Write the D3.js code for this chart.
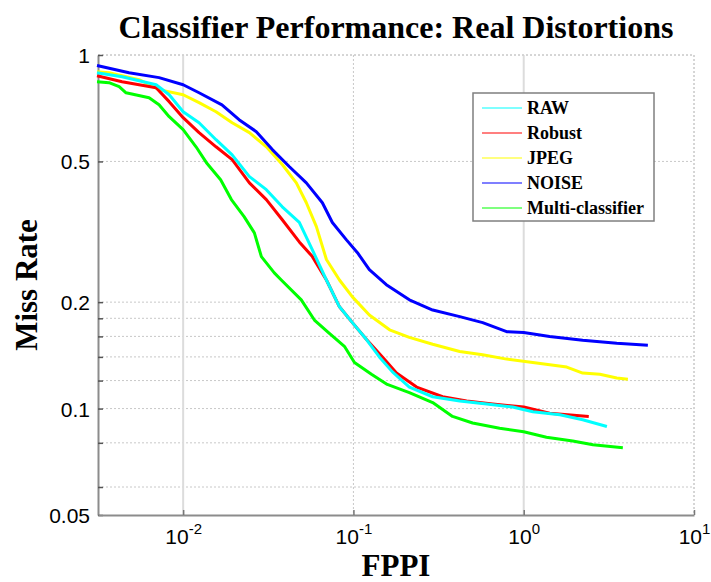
<!DOCTYPE html>
<meta charset="utf-8">
<script src="https://cdn.jsdelivr.net/npm/d3@7"></script>
<style>
body { margin: 0; background: #fff; }
.tick text { font-family: "Liberation Sans", Arial, sans-serif; font-size: 21px; fill: #000; }
.ttl { font-family: "Liberation Serif", "Times New Roman", serif; font-weight: bold; fill: #000; }
</style>
<body>
<script>

// curves: FPPI (x) vs miss rate (y)
var rawX    = [0.00312, 0.00438, 0.00694, 0.00828, 0.01, 0.0124, 0.0156, 0.0194, 0.0245, 0.0308, 0.0382, 0.0481, 0.0574, 0.0694, 0.0828, 0.0986, 0.119, 0.142, 0.1695, 0.213, 0.292, 0.421, 0.606, 0.861, 1.13, 1.63, 2.22, 3.08];
var rawY    = [0.891, 0.868, 0.824, 0.772, 0.691, 0.643, 0.576, 0.522, 0.453, 0.416, 0.372, 0.336, 0.281, 0.231, 0.194, 0.175, 0.157, 0.140, 0.127, 0.115, 0.108, 0.105, 0.103, 0.101, 0.098, 0.096, 0.093, 0.089];
var robustX = [0.00312, 0.00438, 0.00694, 0.00828, 0.01, 0.0124, 0.0156, 0.0194, 0.0245, 0.0308, 0.0382, 0.0481, 0.0574, 0.0694, 0.0828, 0.0986, 0.119, 0.148, 0.179, 0.235, 0.334, 0.462, 0.657, 1.0, 1.42, 2.41];
var robustY = [0.874, 0.840, 0.808, 0.738, 0.665, 0.603, 0.550, 0.506, 0.435, 0.390, 0.342, 0.296, 0.269, 0.231, 0.194, 0.175, 0.157, 0.140, 0.126, 0.115, 0.108, 0.105, 0.103, 0.101, 0.097, 0.095];
var jpegX   = [0.00312, 0.00367, 0.00551, 0.00722, 0.01, 0.0124, 0.0156, 0.0194, 0.0245, 0.0308, 0.0382, 0.0462, 0.0529, 0.0606, 0.0694, 0.0828, 0.0986, 0.124, 0.163, 0.213, 0.292, 0.421, 0.574, 0.794, 1.13, 1.79, 2.22, 2.8, 3.52, 4.09];
var jpegY   = [0.897, 0.891, 0.852, 0.798, 0.772, 0.733, 0.691, 0.643, 0.603, 0.550, 0.490, 0.435, 0.382, 0.327, 0.264, 0.231, 0.207, 0.184, 0.167, 0.159, 0.152, 0.145, 0.142, 0.138, 0.135, 0.131, 0.126, 0.125, 0.122, 0.121];
var noiseX  = [0.00312, 0.00481, 0.00722, 0.01, 0.0124, 0.0169, 0.0213, 0.0269, 0.0334, 0.0421, 0.0529, 0.0657, 0.0752, 0.091, 0.1056, 0.124, 0.156, 0.213, 0.292, 0.421, 0.574, 0.794, 1.0, 1.42, 2.22, 3.52, 5.36];
var noiseY  = [0.934, 0.891, 0.863, 0.824, 0.782, 0.723, 0.656, 0.607, 0.540, 0.483, 0.435, 0.382, 0.336, 0.300, 0.276, 0.247, 0.224, 0.203, 0.190, 0.182, 0.175, 0.165, 0.164, 0.160, 0.156, 0.153, 0.151];
var multiX  = [0.00312, 0.00367, 0.00421, 0.00462, 0.00631, 0.00722, 0.00828, 0.01, 0.0119, 0.0137, 0.0166, 0.0192, 0.0228, 0.0262, 0.0288, 0.0343, 0.0377, 0.0494, 0.059, 0.0703, 0.0885, 0.1014, 0.1276, 0.158, 0.213, 0.292, 0.382, 0.501, 0.722, 1.0, 1.36, 1.94, 2.55, 3.82];
var multiY  = [0.840, 0.835, 0.814, 0.782, 0.757, 0.723, 0.669, 0.615, 0.550, 0.496, 0.444, 0.390, 0.349, 0.314, 0.269, 0.242, 0.231, 0.203, 0.178, 0.165, 0.150, 0.135, 0.125, 0.117, 0.111, 0.104, 0.095, 0.091, 0.088, 0.086, 0.083, 0.081, 0.079, 0.0775];

var names  = ["RAW", "Robust", "JPEG", "NOISE", "Multi-classifier"];
var colors = ["#00ffff", "#ff0000", "#ffff00", "#0000ff", "#00ff00"];
var seriesX = [rawX, robustX, jpegX, noiseX, multiX];
var seriesY = [rawY, robustY, jpegY, noiseY, multiY];

var yTicks  = [0.05, 0.06, 0.08, 0.1, 0.12, 0.14, 0.16, 0.18, 0.2, 0.5, 1];
var yLabels = [0.05, 0.1, 0.2, 0.5, 1];
var xTicks  = [0.01, 0.1, 1, 10];

var width = 711, height = 582;
var m = {left: 98, right: 694, top: 55, bottom: 515};

var svg = d3.select("body").append("svg")
    .attr("width", width)
    .attr("height", height);

var x = d3.scaleLog().domain([Math.pow(10, -2.5), 10]).range([m.left, m.right]);
var y = d3.scaleLog().domain([0.05, 1]).range([m.bottom, m.top]);

// grid
svg.append("g").selectAll("line")
    .data(yTicks.filter(function(d) { return d != 0.05; }))
    .enter().append("line")
    .attr("x1", m.left).attr("x2", m.right)
    .attr("y1", function(d) { return y(d); })
    .attr("y2", function(d) { return y(d); })
    .attr("stroke", "#c8c8c8")
    .attr("stroke-dasharray", "2,2");

svg.append("g").selectAll("line")
    .data(xTicks)
    .enter().append("line")
    .attr("x1", function(d) { return x(d); })
    .attr("x2", function(d) { return x(d); })
    .attr("y1", m.top).attr("y2", m.bottom)
    .attr("stroke", function(d) { return (d == 0.01 || d == 1) ? "#dcdcdc" : "#c8c8c8"; })
    .attr("stroke-width", function(d) { return (d == 0.01 || d == 1) ? 2 : 1; })
    .attr("stroke-dasharray", function(d) { return (d == 0.01 || d == 1) ? null : "2,2"; });

// top/right border
svg.append("path")
    .attr("d", "M" + m.left + "," + m.top + "H" + m.right + "V" + m.bottom)
    .attr("fill", "none")
    .attr("stroke", "#c8c8c8")
    .attr("stroke-dasharray", "2,2");

// axes
var yAxis = d3.axisLeft(y)
    .tickValues(yTicks)
    .tickSizeInner(-5)
    .tickSizeOuter(0)
    .tickPadding(8)
    .tickFormat(function(d) { return yLabels.indexOf(d) >= 0 ? d : ""; });

var gy = svg.append("g")
    .attr("transform", "translate(" + m.left + ",0)")
    .call(yAxis);
gy.select(".domain").attr("stroke", "#8c8c8c").attr("stroke-width", 2);
gy.selectAll(".tick line").attr("stroke", "#555").attr("stroke-width", 1.5);
gy.selectAll(".tick text").attr("dy", "0.36em");

var xAxis = d3.axisBottom(x)
    .tickValues(xTicks)
    .tickSizeInner(-5)
    .tickSizeOuter(0)
    .tickPadding(10)
    .tickFormat("");

var gx = svg.append("g")
    .attr("transform", "translate(0," + m.bottom + ")")
    .call(xAxis);
gx.select(".domain").attr("stroke", "#8c8c8c").attr("stroke-width", 2);
gx.selectAll(".tick line").attr("stroke", "#777").attr("stroke-width", 1.5);

var xl = gx.selectAll(".tick").append("text")
    .attr("y", 29)
    .attr("text-anchor", "middle");
xl.append("tspan").text("10");
xl.append("tspan")
    .attr("dy", -10)
    .attr("font-size", "15px")
    .text(function(d) { return Math.round(Math.log10(d)); });

// curves
var line = d3.line()
    .x(function(d) { return x(d[0]); })
    .y(function(d) { return y(d[1]); });

var order = [2, 3, 1, 0, 4];
order.forEach(function(i) {
    var pts = seriesX[i].map(function(v, j) { return [v, seriesY[i][j]]; });
    svg.append("path")
        .datum(pts)
        .attr("d", line)
        .attr("fill", "none")
        .attr("stroke", colors[i])
        .attr("stroke-width", 3)
        .attr("stroke-linejoin", "round");
});

// legend
var lg = svg.append("g").attr("transform", "translate(473,93)");
lg.append("rect")
    .attr("width", 181).attr("height", 128)
    .attr("fill", "#fff")
    .attr("stroke", "#7f7f7f")
    .attr("stroke-width", 1.5);

var item = lg.selectAll(".item")
    .data(names)
    .enter().append("g")
    .attr("transform", function(d, i) { return "translate(0," + (15 + i * 25) + ")"; });
item.append("line")
    .attr("x1", 9).attr("x2", 49)
    .attr("stroke", function(d, i) { return colors[i]; })
    .attr("stroke-width", 1.2);
item.append("text")
    .attr("class", "ttl")
    .attr("x", 54)
    .attr("y", 6)
    .attr("font-size", "18px")
    .text(function(d) { return d; });

// titles
svg.append("text")
    .attr("class", "ttl")
    .attr("x", (m.left + m.right) / 2)
    .attr("y", 38)
    .attr("text-anchor", "middle")
    .attr("font-size", "32px")
    .text("Classifier Performance: Real Distortions");

svg.append("text")
    .attr("class", "ttl")
    .attr("x", (m.left + m.right) / 2)
    .attr("y", 576)
    .attr("text-anchor", "middle")
    .attr("font-size", "31px")
    .text("FPPI");

svg.append("text")
    .attr("class", "ttl")
    .attr("transform", "translate(37," + (m.top + m.bottom) / 2 + ") rotate(-90)")
    .attr("text-anchor", "middle")
    .attr("font-size", "31px")
    .text("Miss Rate");

</script>
</body>
